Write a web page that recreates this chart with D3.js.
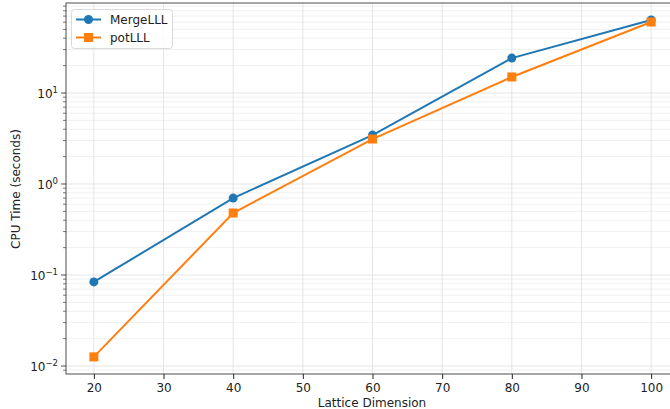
<!DOCTYPE html>
<html>
<head>
<meta charset="utf-8">
<script src="https://cdn.jsdelivr.net/npm/d3@7"></script>
<style>
  body { margin: 0; background: white; }
  text { font-family: "DejaVu Sans", sans-serif; fill: #222; }
</style>
</head>
<body>
<svg id="chart"></svg>
<script>
const dims = [20, 40, 60, 80, 100];
const mergeLLL = [0.084, 0.70, 3.45, 24.2, 63.4];
const potLLL = [0.0126, 0.48, 3.12, 15.0, 60.3];
const xTicks = [20, 30, 40, 50, 60, 70, 80, 90, 100];
const yDecades = [-2, -1, 0, 1];

const width = 670, height = 409;
const margin = { top: 3, left: 66, bottom: 35 };
const plotRight = 679;

const svg = d3.select("#chart").attr("width", width).attr("height", height);

const x = d3.scaleLinear().domain([16, 104]).range([margin.left, plotRight]);
const y = d3.scaleLog().domain([0.00817, 97.5]).range([height - margin.bottom, margin.top]);

// minor grid
const minorVals = [];
for (let e = -3; e <= 2; e++) for (let m = 2; m <= 9; m++) {
    const v = m * Math.pow(10, e);
    if (v > y.domain()[0] && v < y.domain()[1]) minorVals.push(v);
}
svg.append("g").selectAll("line").data(minorVals).enter().append("line")
    .attr("x1", margin.left).attr("x2", plotRight)
    .attr("y1", d => y(d)).attr("y2", d => y(d))
    .attr("stroke", "#ececec").attr("stroke-width", 0.8);

// major grid
svg.append("g").selectAll("line").data(yDecades).enter().append("line")
    .attr("x1", margin.left).attr("x2", plotRight)
    .attr("y1", d => y(Math.pow(10, d))).attr("y2", d => y(Math.pow(10, d)))
    .attr("stroke", "#dedede").attr("stroke-width", 0.8);
svg.append("g").selectAll("line").data(xTicks).enter().append("line")
    .attr("x1", d => x(d)).attr("x2", d => x(d))
    .attr("y1", margin.top).attr("y2", height - margin.bottom)
    .attr("stroke", "#dedede").attr("stroke-width", 0.8);

// axes
const xAxis = svg.append("g")
    .attr("transform", `translate(0,${height - margin.bottom})`)
    .call(d3.axisBottom(x).tickValues(xTicks).tickSize(5).tickPadding(4));
xAxis.select(".domain").remove();
xAxis.selectAll("text").style("font-size", "12px").attr("fill", "#222");
xAxis.selectAll("line").attr("stroke", "#222");

const yAxis = svg.append("g").attr("transform", `translate(${margin.left},0)`);
yAxis.selectAll(".minor").data(minorVals).enter().append("line")
    .attr("x1", 0).attr("x2", -3)
    .attr("y1", d => y(d)).attr("y2", d => y(d))
    .attr("stroke", "#222").attr("stroke-width", 0.6);
yAxis.selectAll(".major").data(yDecades).enter().append("line")
    .attr("x1", 0).attr("x2", -5)
    .attr("y1", d => y(Math.pow(10, d))).attr("y2", d => y(Math.pow(10, d)))
    .attr("stroke", "#222").attr("stroke-width", 0.8);
const yLab = yAxis.selectAll(".lab").data(yDecades).enter().append("text")
    .attr("x", -8).attr("y", d => y(Math.pow(10, d)) + 5)
    .attr("text-anchor", "end").style("font-size", "12px");
yLab.append("tspan").text("10");
yLab.append("tspan").attr("dy", -5).style("font-size", "8.5px").text(d => d < 0 ? "\u2212" + (-d) : d);

// spines
svg.append("rect")
    .attr("x", margin.left).attr("y", margin.top)
    .attr("width", plotRight - margin.left).attr("height", height - margin.bottom - margin.top)
    .attr("fill", "none").attr("stroke", "#222").attr("stroke-width", 0.8);

// labels
svg.append("text").attr("x", 372).attr("y", 407)
    .attr("text-anchor", "middle").style("font-size", "12px").text("Lattice Dimension");
svg.append("text").attr("transform", `translate(20,189) rotate(-90)`)
    .attr("text-anchor", "middle").style("font-size", "12px").text("CPU Time (seconds)");

// series
const series = [
    { name: "MergeLLL", values: mergeLLL, color: "#1f77b4", marker: "circle" },
    { name: "potLLL", values: potLLL, color: "#ff7f0e", marker: "square" }
];
const line = d3.line().x(d => x(d[0])).y(d => y(d[1]));

function drawMarker(g, s, cx, cy) {
    if (s.marker === "circle") {
        g.append("circle").attr("cx", cx).attr("cy", cy).attr("r", 4.5).attr("fill", s.color);
    } else {
        g.append("rect").attr("x", cx - 4.5).attr("y", cy - 4.5).attr("width", 9).attr("height", 9).attr("fill", s.color);
    }
}

series.forEach(s => {
    const pts = dims.map((d, i) => [d, s.values[i]]);
    svg.append("path").datum(pts).attr("d", line)
        .attr("fill", "none").attr("stroke", s.color).attr("stroke-width", 2);
    const g = svg.append("g");
    pts.forEach(p => drawMarker(g, s, x(p[0]), y(p[1])));
});

// legend
const legend = svg.append("g");
legend.append("rect").attr("x", 71.5).attr("y", 9.5).attr("width", 101).attr("height", 39)
    .attr("rx", 3).attr("fill", "white").attr("fill-opacity", 0.8)
    .attr("stroke", "#d0d0d0").attr("stroke-width", 0.8);
series.forEach((s, i) => {
    const cy = 19.5 + i * 18;
    legend.append("line").attr("x1", 76).attr("x2", 101).attr("y1", cy).attr("y2", cy)
        .attr("stroke", s.color).attr("stroke-width", 2);
    drawMarker(legend, s, 88.5, cy);
    legend.append("text").attr("x", 110).attr("y", cy + 4.5).style("font-size", "12px").text(s.name);
});
</script>
</body>
</html>
